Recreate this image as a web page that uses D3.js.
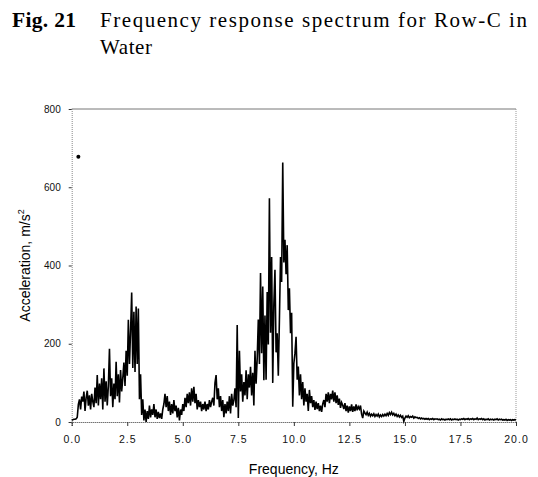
<!DOCTYPE html>
<html>
<head>
<script type="text/javascript" src="https://cdn.jsdelivr.net/npm/d3@7"></script>
<title>Frequency response spectrum</title>
<style>
body { margin:0; background:#fff; }
</style>
</head>
<body>
<div id="chart"></div>
<script type="text/javascript">
var step = 0.05;
var accel = [
  // 0.0 - 0.95
  4,6,7,7,8,12,45,58,32,65,52,78,28,62,80,42,68,32,72,52,
  // 1.0
  38,88,48,120,42,98,58,112,32,137,52,104,42,92,187,66,112,38,98,58,
  // 2.0
  154,66,122,50,133,78,112,152,92,182,118,261,148,232,331,138,282,128,295,148,
  // 3.0
  290,58,122,18,58,4,32,0,28,8,42,12,32,18,46,12,32,8,26,10,
  // 4.0
  22,8,32,46,72,38,66,28,52,18,46,22,56,28,42,12,36,4,32,18,
  // 5.0
  46,28,62,38,72,48,76,42,86,52,90,48,72,32,56,38,52,28,46,32,
  // 6.0
  52,28,46,32,56,38,52,62,42,100,120,58,86,38,66,28,56,12,46,22,
  // 7.0
  52,28,66,22,72,42,56,86,38,248,10,182,78,122,52,102,68,132,58,122,
  // 8.0
  88,141,68,126,42,182,98,162,262,148,381,176,346,107,272,108,332,198,572,228,
  // 9.0
  422,100,302,389,178,227,118,261,422,358,663,408,466,378,452,286,342,227,279,39,
  // 10.0
  150,176,218,108,142,68,122,58,102,42,86,52,72,28,82,48,66,38,56,31,
  // 11.0
  52,33,48,28,42,26,46,56,38,72,52,76,48,72,58,80,52,76,48,68,
  // 12.0
  44,60,36,50,43,33,48,28,42,24,40,28,45,26,40,28,45,30,39,33,
  // 13.0
  42,20,10,28,23,19,25,17,22,15,20,16,21,14,19,15,20,13,18,14,
  // 14.0
  19,15,20,16,22,17,24,19,25,18,22,16,20,14,18,13,17,12,15,2,
  // 15.0
  10,15,12,16,11,14,12,15,10,13,11,12,9,11,8,10,8,9,7,9,
  // 16.0
  7,9,6,8,7,9,6,8,7,8,6,7,5,8,6,7,5,7,6,8,
  // 17.0
  6,8,5,7,6,8,6,7,5,7,6,8,7,9,6,8,7,9,6,8,
  // 18.0
  7,9,6,8,7,10,6,8,7,9,6,8,5,7,6,8,5,7,6,7,
  // 19.0
  5,7,6,8,5,7,6,7,5,6,5,7,4,6,5,6,4,6,5,6,
  // 20.0
  5
];
var xTicks = [0, 2.5, 5, 7.5, 10, 12.5, 15, 17.5, 20];
var yTicks = [0, 200, 400, 600, 800];
var marker = [0.3, 678];

var w = 538, h = 477;
var x0 = 71.7, x1 = 516, yTop = 109, yBot = 422;

var svg = d3.select("#chart").append("svg")
  .attr("width", w).attr("height", h);

var x = d3.scaleLinear().domain([0, 20]).range([x0, x1]);
var y = d3.scaleLinear().domain([0, 800]).range([yBot, yTop]);

// title
var serif = "'Liberation Serif', 'Times New Roman', serif";
svg.append("text").attr("x", 12).attr("y", 27)
  .attr("font-family", serif).attr("font-weight", "bold").attr("font-size", 21.5)
  .attr("textLength", 64).attr("lengthAdjust", "spacing")
  .text("Fig. 21");
svg.append("text").attr("x", 100).attr("y", 27)
  .attr("font-family", serif).attr("font-size", 21)
  .attr("textLength", 427).attr("lengthAdjust", "spacing")
  .text("Frequency response spectrum for Row-C in");
svg.append("text").attr("x", 100).attr("y", 54)
  .attr("font-family", serif).attr("font-size", 21)
  .attr("textLength", 52).attr("lengthAdjust", "spacing")
  .text("Water");

// frame: top solid, right dotted
svg.append("line").attr("x1", x0).attr("x2", x1).attr("y1", yTop).attr("y2", yTop)
  .attr("stroke", "#777").attr("stroke-width", 1);
svg.append("line").attr("x1", x1).attr("x2", x1).attr("y1", yTop).attr("y2", yBot)
  .attr("stroke", "#999").attr("stroke-width", 1).attr("stroke-dasharray", "1,1");

var sans = "Arial, 'Liberation Sans', sans-serif";

// y axis
var yAxis = svg.append("g").attr("transform", "translate(" + x0 + ",0)")
  .call(d3.axisLeft(y).tickValues(yTicks).tickSize(3).tickPadding(8).tickFormat(d3.format("d")));
yAxis.select(".domain").attr("stroke", "#888").attr("stroke-dasharray", "1,1");
yAxis.selectAll(".tick line").attr("stroke", "#333");
yAxis.selectAll("text").attr("font-family", sans).attr("font-size", 10).attr("fill", "#111");

// x axis
var xAxis = svg.append("g").attr("transform", "translate(0," + yBot + ")")
  .call(d3.axisBottom(x).tickValues(xTicks).tickSize(4).tickPadding(10).tickFormat(d3.format(".1f")));
xAxis.select(".domain").attr("stroke", "#333").attr("stroke-dasharray", "1,1");
xAxis.selectAll(".tick line").attr("stroke", "#333");
xAxis.selectAll("text").attr("font-family", sans).attr("font-size", 10.5)
  .attr("letter-spacing", 1).attr("fill", "#111");

// axis titles
svg.append("text").attr("x", (x0 + x1) / 2).attr("y", 474)
  .attr("text-anchor", "middle").attr("font-family", sans).attr("font-size", 14)
  .text("Frequency, Hz");
var yl = svg.append("text")
  .attr("transform", "translate(30," + ((yTop + yBot) / 2) + ") rotate(-90)")
  .attr("text-anchor", "middle").attr("font-family", sans).attr("font-size", 14);
yl.append("tspan").text("Acceleration, m/s");
yl.append("tspan").attr("font-size", 9).attr("dy", -6).text("2");

// spectrum line
var line = d3.line()
  .x(function(d, i) { return x(i * step); })
  .y(function(d) { return y(d); });
svg.append("path").datum(accel)
  .attr("d", line)
  .attr("fill", "none").attr("stroke", "#000").attr("stroke-width", 1.6)
  .attr("stroke-linejoin", "miter");

// stray point marker
svg.append("circle").attr("cx", x(marker[0])).attr("cy", y(marker[1]))
  .attr("r", 2).attr("fill", "#000");
</script>
</body>
</html>
